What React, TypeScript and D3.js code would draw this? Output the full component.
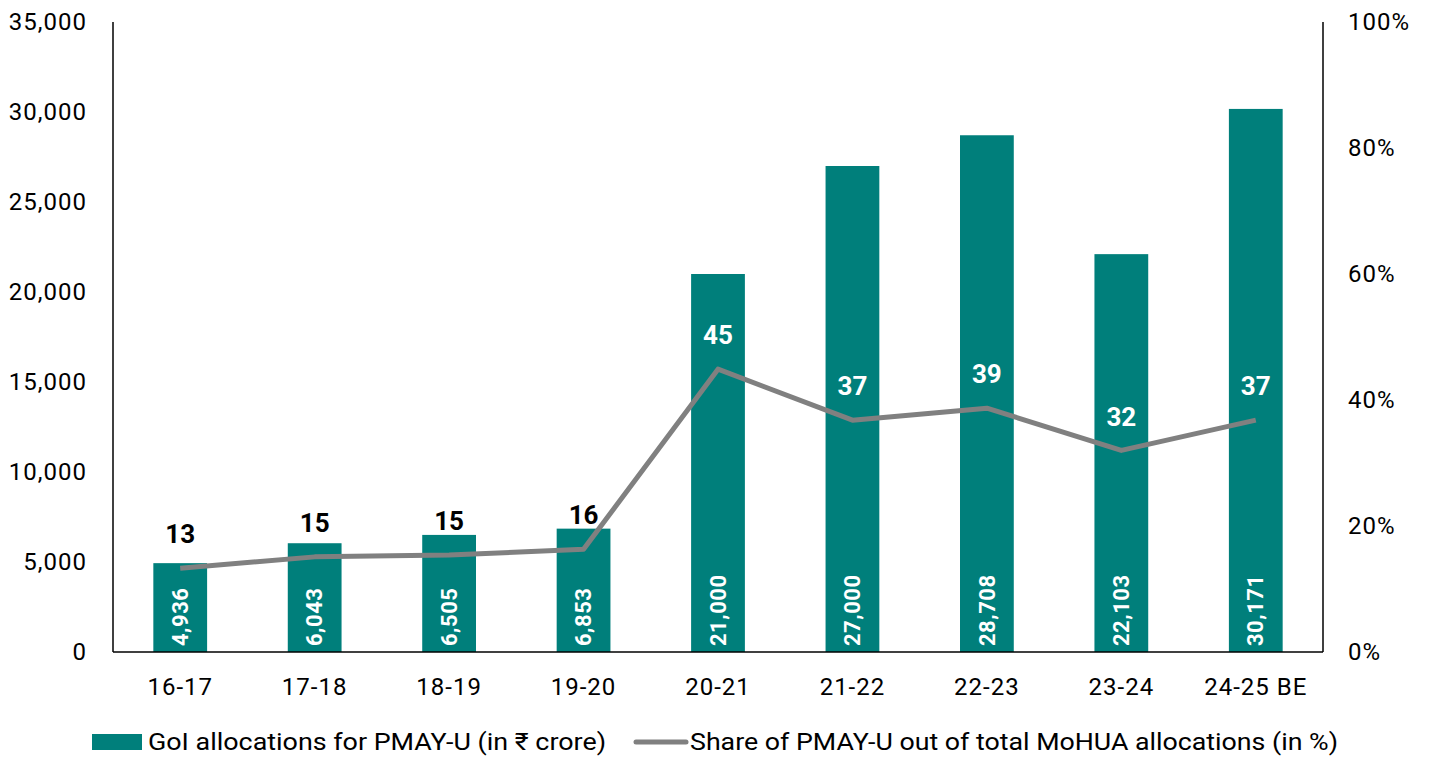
import React from "react";
import * as d3 from "d3";

const categories = ["16-17", "17-18", "18-19", "19-20", "20-21", "21-22", "22-23", "23-24", "24-25 BE"];
const allocations = [4936, 6043, 6505, 6853, 21000, 27000, 28708, 22103, 30171];
const shares = [13.3, 15.1, 15.4, 16.3, 44.9, 36.8, 38.7, 32.0, 36.8];
const shareLabels = ["13", "15", "15", "16", "45", "37", "39", "32", "37"];
const leftTicks = [0, 5000, 10000, 15000, 20000, 25000, 30000, 35000];
const rightTicks = [0, 20, 40, 60, 80, 100];
const legendBar = "GoI allocations for PMAY-U (in ₹ crore)";
const legendLine = "Share of PMAY-U out of total MoHUA allocations (in %)";

const TEAL = "#007F7B";
const GREY = "#808080";
const FONT = "Roboto, 'Noto Sans', sans-serif";

export default function App() {
  const left = 113, right = 1323, top = 22, bottom = 652;
  const x = d3.scaleBand<string>().domain(categories).range([left, right]).paddingInner(0.6).paddingOuter(0.3);
  const yL = d3.scaleLinear().domain([0, 35000]).range([bottom, top]);
  const yR = d3.scaleLinear().domain([0, 100]).range([bottom, top]);
  const fmt = d3.format(",");
  const cx = (c: string) => (x(c) as number) + x.bandwidth() / 2;
  const line = d3.line<number>().x((_, i) => cx(categories[i])).y((d) => yR(d));

  return (
    <svg width={1430} height={759} style={{ position: "absolute", left: 0, top: 0, background: "#fff" }} fontFamily={FONT}>
      {allocations.map((v, i) => (
        <rect key={"b" + i} x={x(categories[i])} y={yL(v)} width={x.bandwidth()} height={bottom - yL(v)} fill={TEAL} />
      ))}
      <line x1={left} x2={left} y1={top} y2={bottom} stroke="#000" strokeWidth={1.5} />
      <line x1={right} x2={right} y1={top} y2={bottom} stroke="#000" strokeWidth={1.5} />
      <line x1={left} x2={right} y1={bottom} y2={bottom} stroke="#000" strokeWidth={1.5} />
      {leftTicks.map((t) => (
        <text key={"l" + t} x={87} y={yL(t)} dy="0.35em" textAnchor="end" fontSize={24} letterSpacing={1} fill="#000">{fmt(t)}</text>
      ))}
      {rightTicks.map((t) => (
        <text key={"r" + t} x={1348} y={yR(t)} dy="0.35em" textAnchor="start" fontSize={24} letterSpacing={1} fill="#000">{t + "%"}</text>
      ))}
      {categories.map((c) => (
        <text key={"c" + c} x={cx(c)} y={687} dy="0.35em" textAnchor="middle" fontSize={24} letterSpacing={1} fill="#000">{c}</text>
      ))}
      <path d={line(shares) || ""} fill="none" stroke={GREY} strokeWidth={5} strokeLinejoin="round" />
      {allocations.map((v, i) => (
        <text key={"v" + i} transform={`translate(${cx(categories[i])},${bottom - 6}) rotate(-90)`} dy="0.35em" textAnchor="start" fontSize={22} fontWeight="bold" letterSpacing={0.5} fill="#fff">{fmt(v)}</text>
      ))}
      {shares.map((s, i) => (
        <text key={"s" + i} x={cx(categories[i])} y={yR(s) - 34} dy="0.35em" textAnchor="middle" fontSize={26} fontWeight="bold" fill={i < 4 ? "#000" : "#fff"}>{shareLabels[i]}</text>
      ))}
      <rect x={92} y={734} width={50} height={16} fill={TEAL} />
      <text x={148} y={742} dy="0.35em" fontSize={24} fill="#000" textLength={458} lengthAdjust="spacingAndGlyphs">{legendBar}</text>
      <line x1={636} x2={686} y1={742} y2={742} stroke={GREY} strokeWidth={5} strokeLinecap="round" />
      <text x={690} y={742} dy="0.35em" fontSize={24} fill="#000" textLength={648} lengthAdjust="spacingAndGlyphs">{legendLine}</text>
    </svg>
  );
}
